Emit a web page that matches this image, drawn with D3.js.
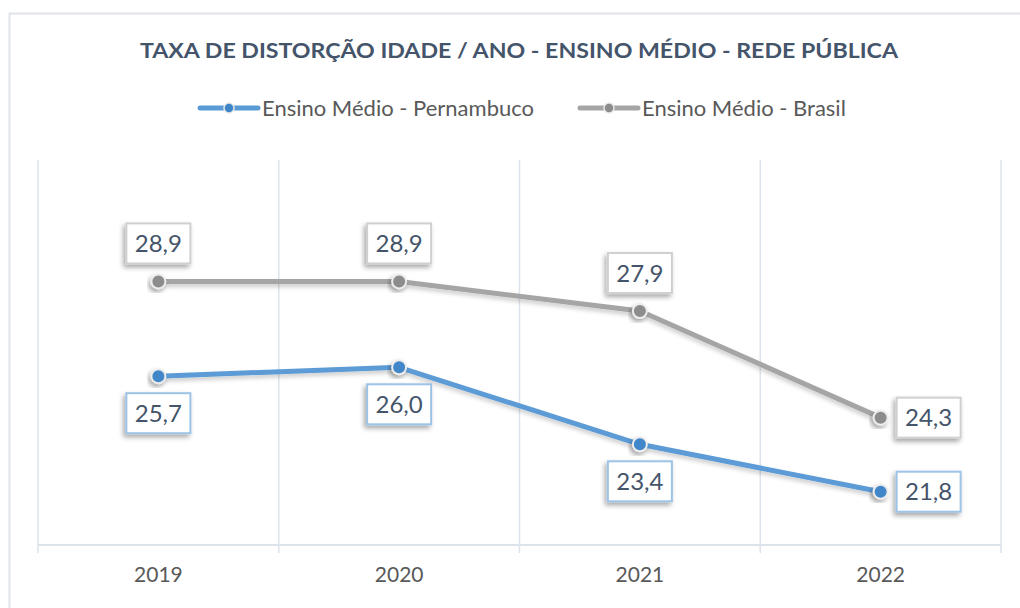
<!DOCTYPE html>
<html>
<head>
<meta charset="utf-8">
<script src="https://cdn.jsdelivr.net/npm/d3@7"></script>
<style>
	html, body { margin: 0; padding: 0; background: #fff; }
	svg { display: block; font-family: Lato, "Open Sans", sans-serif; }
</style>
</head>
<body>
<svg id="chart" width="1020" height="608"></svg>
<script>
var years = ["2019", "2020", "2021", "2022"];
var pernambuco = [25.7, 26.0, 23.4, 21.8];
var brasil = [28.9, 28.9, 27.9, 24.3];
var seriesNames = ["Ensino Médio - Pernambuco", "Ensino Médio - Brasil"];
var chartTitle = "TAXA DE DISTORÇÃO IDADE / ANO - ENSINO MÉDIO - REDE PÚBLICA";

var svg = d3.select("#chart"),
	plotLeft = 38, plotRight = 1001, plotTop = 160, plotBottom = 545;

var x = d3.scaleBand().domain(years).range([plotLeft, plotRight]);
var y = d3.scaleLinear().domain([20, 33]).range([plotBottom, plotTop]);
var fmt = function (v) { return d3.format(".1f")(v).replace(".", ","); };
var cx = function (d, i) { return x(years[i]) + x.bandwidth() / 2; };

// defs: shadows
var defs = svg.append("defs");
var f = defs.append("filter").attr("id", "shadow").attr("x", "-30%").attr("y", "-30%").attr("width", "160%").attr("height", "160%");
f.append("feDropShadow").attr("dx", -2).attr("dy", 3).attr("stdDeviation", 2.5).attr("flood-color", "#000").attr("flood-opacity", 0.35);
var fl = defs.append("filter").attr("id", "lshadow").attr("x", "-10%").attr("y", "-30%").attr("width", "120%").attr("height", "160%");
fl.append("feDropShadow").attr("dx", 0).attr("dy", 3).attr("stdDeviation", 2).attr("flood-color", "#000").attr("flood-opacity", 0.2);

// outer frame
svg.append("path").attr("d", "M9.5,608 V13.5 H1020")
	.attr("fill", "none").attr("stroke", "#dfe3e9").attr("stroke-width", 2);

svg.append("text").attr("x", 519).attr("y", 58).attr("text-anchor", "middle")
	.attr("font-size", 21).attr("font-weight", "bold").attr("fill", "#44546a")
	.attr("textLength", 758).attr("lengthAdjust", "spacingAndGlyphs")
	.text(chartTitle);

// grid
svg.append("g").selectAll("line").data(d3.range(years.length + 1)).enter().append("line")
	.attr("x1", function (i) { return plotLeft + i * x.step(); })
	.attr("x2", function (i) { return plotLeft + i * x.step(); })
	.attr("y1", plotTop).attr("y2", plotBottom + 8)
	.attr("stroke", "#dde3ea").attr("stroke-width", 1.5);

svg.append("line").attr("x1", plotLeft).attr("x2", plotRight).attr("y1", plotBottom).attr("y2", plotBottom)
	.attr("stroke", "#dde3ea").attr("stroke-width", 2);

var xAxis = svg.append("g").attr("transform", "translate(0," + plotBottom + ")")
	.call(d3.axisBottom(x).tickSize(0).tickPadding(22));
xAxis.select(".domain").remove();
xAxis.selectAll("text").attr("font-size", 21).attr("fill", "#595959")
	.attr("font-family", "Lato, sans-serif");

var series = [
	{name: seriesNames[0], values: pernambuco, color: "#5b9bd5", dot: "#3f86c9", border: "#9dc3e6"},
	{name: seriesNames[1], values: brasil, color: "#a5a5a5", dot: "#8c8c8c", border: "#d0d0d0"}
];

var line = d3.line().x(cx).y(function (d) { return y(d); });

series.forEach(function (s) {
	svg.append("path").datum(s.values).attr("d", line)
		.attr("fill", "none").attr("stroke", s.color).attr("stroke-width", 5)
		.attr("stroke-linejoin", "round").attr("filter", "url(#lshadow)");
	svg.append("g").selectAll("circle").data(s.values).enter().append("circle")
		.attr("cx", cx)
		.attr("cy", function (d) { return y(d); })
		.attr("r", 7).attr("fill", s.dot).attr("stroke", "#ececec").attr("stroke-width", 2)
		.attr("filter", "url(#shadow)");
});

// data label offsets: Brasil above, Pernambuco below, last one to the right
var labelOffset = function (si, i) {
	if (i === years.length - 1) return [48, 0];
	return si === 1 ? [0, -38] : [0, 37];
};

series.forEach(function (s, si) {
	var g = svg.append("g").selectAll("g").data(s.values).enter().append("g")
		.attr("transform", function (d, i) {
			var o = labelOffset(si, i);
			return "translate(" + (cx(d, i) + o[0]) + "," + (y(d) + o[1]) + ")";
		});
	g.append("rect").attr("x", -32).attr("y", -20).attr("width", 64).attr("height", 40)
		.attr("fill", "#fff").attr("stroke", s.border).attr("stroke-width", 2)
		.attr("filter", "url(#shadow)");
	g.append("text").attr("text-anchor", "middle").attr("dy", "0.36em")
		.attr("font-size", 24).attr("fill", "#44546a").text(fmt);
});

// legend
var legend = svg.append("g").selectAll("g").data(series).enter().append("g")
	.attr("transform", function (d, i) { return "translate(" + [200, 580][i] + ",108)"; });
legend.append("line").attr("x1", 0).attr("x2", 58).attr("stroke", function (d) { return d.color; })
	.attr("stroke-width", 5).attr("stroke-linecap", "round");
legend.append("circle").attr("cx", 29).attr("r", 5).attr("fill", function (d) { return d.dot; })
	.attr("stroke", "#e8e8e8").attr("stroke-width", 1.5);
legend.append("text").attr("x", 62).attr("dy", "0.35em").attr("font-size", 22).attr("fill", "#595959")
	.text(function (d) { return d.name; });
</script>
</body>
</html>
